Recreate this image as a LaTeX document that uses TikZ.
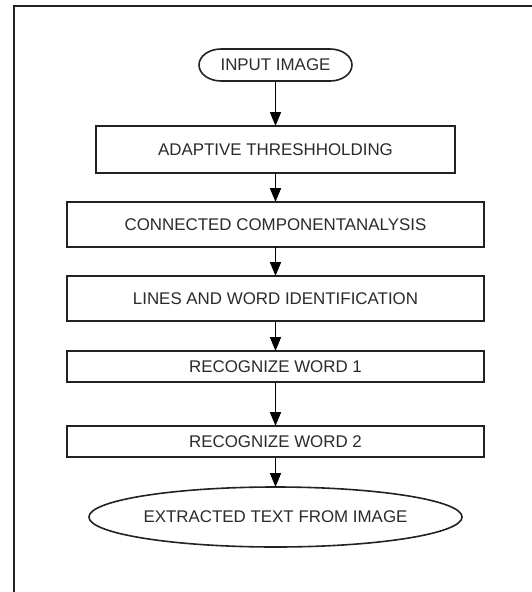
\documentclass[tikz,border=0pt]{standalone}
\usepackage{fontspec}
\setmainfont{Liberation Sans}
\usetikzlibrary{shapes.geometric,arrows.meta}
\definecolor{inkline}{HTML}{222222}
\definecolor{inktext}{HTML}{2b2b2b}
\tikzset{
  flowbase/.style={draw=inkline, line width=1.6pt, fill=white, inner sep=0pt, outer sep=0pt,
    text=inktext, font=\fontsize{16.9}{20}\selectfont},
  procbox/.style={flowbase, rectangle, minimum width=#1},
  terminal/.style={flowbase, draw=none, fill=none, rectangle, minimum width=153pt, minimum height=32pt},
  termline/.style={draw=inkline, line width=1.6pt},
  endoval/.style={flowbase, ellipse, minimum width=361pt, minimum height=60pt},
  flowarrow/.style={draw=black, line width=1.6pt, -{Triangle[length=14pt,width=11pt]}}
}
\begin{document}
\begin{tikzpicture}[x=1pt,y=-1pt]
  \useasboundingbox (0,0) rectangle (531,592);
  % outer frame (left and top sides)
  \draw[inkline, line width=1.8pt] (14,600) -- (14,6) -- (540,6);

  \node[terminal] (input) at (275.5,65) {INPUT IMAGE};
  % terminal outline with elliptical ends
  \draw[termline] ([xshift=22pt]input.north west) -- ([xshift=-22pt]input.north east)
    arc[start angle=90, end angle=-90, x radius=22pt, y radius=16pt]
    -- ([xshift=22pt]input.south west)
    arc[start angle=270, end angle=90, x radius=22pt, y radius=16pt] -- cycle;

  \node[procbox=359pt, minimum height=47pt] (thresh) at (275.5,149.5) {ADAPTIVE THRESHHOLDING};
  \node[procbox=417pt, minimum height=45pt] (cca) at (275.5,224.5) {CONNECTED COMPONENTANALYSIS};
  \node[procbox=417pt, minimum height=45pt] (lines) at (275.5,298.5) {LINES AND WORD IDENTIFICATION};
  \node[procbox=417pt, minimum height=31pt] (word1) at (275.5,366.5) {RECOGNIZE WORD 1};
  \node[procbox=417pt, minimum height=31pt] (word2) at (275.5,441.5) {RECOGNIZE WORD 2};
  \node[endoval] (result) at (275.5,517) {EXTRACTED TEXT FROM IMAGE};

  \draw[flowarrow] (input) -- (thresh);
  \draw[flowarrow] (thresh) -- (cca);
  \draw[flowarrow] (cca) -- (lines);
  \draw[flowarrow] (lines) -- (word1);
  \draw[flowarrow] (word1) -- (word2);
  \draw[flowarrow] (word2) -- (result);
\end{tikzpicture}
\end{document}
